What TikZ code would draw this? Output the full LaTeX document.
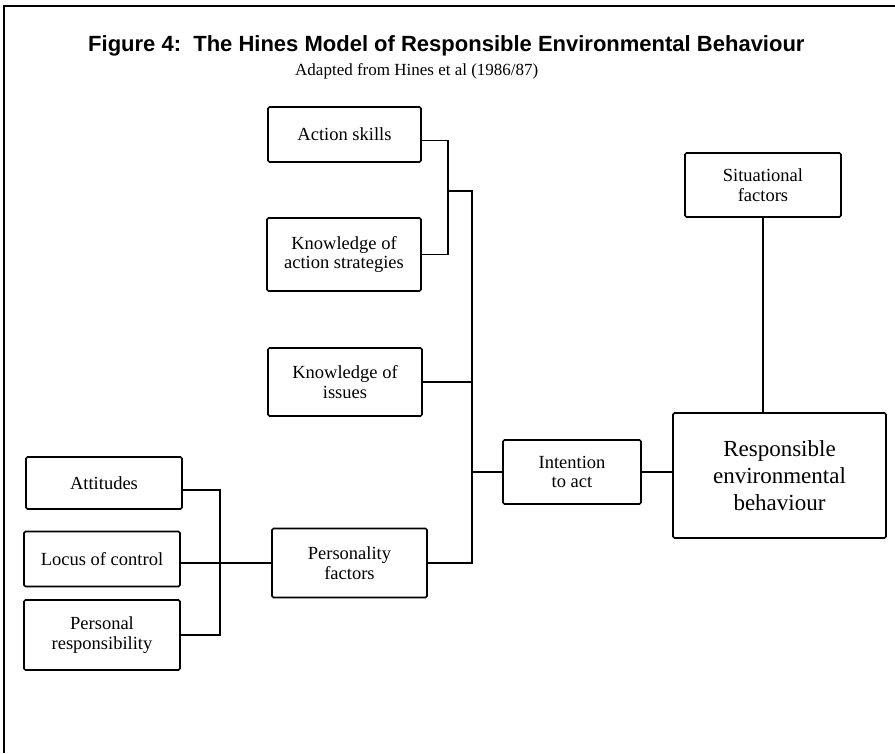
\documentclass[tikz,border=0pt]{standalone}
\usepackage{fontspec}
\setmainfont{Liberation Serif}
\newfontfamily\titlefont{Liberation Sans}
\begin{document}
\begin{tikzpicture}[x=1pt,y=-1pt,
  box/.style={draw,line width=1.6pt,rounded corners=1.5pt,align=center,inner sep=0pt,
    font=\fontsize{18.5}{19.5}\selectfont},
  link/.style={line width=1.3pt}]
\useasboundingbox (0,0) rectangle (895,753);
% frame (top and left edges)
\draw[line width=1.8pt] (4,753) -- (4,6) -- (895,6);
% title
\node[font=\titlefont\bfseries\fontsize{22}{25}\selectfont,anchor=base west,inner sep=0pt] (title) at (88,51)
  {Figure 4:\ \ The Hines Model of Responsible Environmental Behaviour};
\node[font=\fontsize{17}{19}\selectfont,anchor=base west,inner sep=0pt] (sub) at (295,75)
  {Adapted from Hines et al (1986/87)};
% boxes
\node[box,minimum width=153pt,minimum height=55pt] (skills) at (344.5,134.5) {Action skills};
\node[box,minimum width=154pt,minimum height=73pt] (strat) at (344,254.5) {Knowledge of\\action strategies};
\node[box,minimum width=154pt,minimum height=68pt] (issues) at (345,382) {Knowledge of\\issues};
\node[box,minimum width=138pt,minimum height=64pt] (int) at (572,472) {Intention\\to act};
\node[box,minimum width=213pt,minimum height=125pt,font=\fontsize{23}{27}\selectfont] (reb) at (779.5,475.5)
  {Responsible\\environmental\\behaviour};
\node[box,minimum width=156pt,minimum height=64pt] (sit) at (763,185) {Situational\\factors};
\node[box,minimum width=156pt,minimum height=52pt] (att) at (104,483) {Attitudes};
\node[box,minimum width=156pt,minimum height=55pt] (loc) at (102,559) {Locus of control};
\node[box,minimum width=156pt,minimum height=70pt] (pers) at (102,635) {Personal\\responsibility};
\node[box,minimum width=155pt,minimum height=69pt] (pf) at (349.5,563) {Personality\\factors};
% junction points
\coordinate (b1) at (448,191);
\coordinate (m) at (472,191);
\coordinate (lb) at (220,0);
% connectors
\draw[link] ([yshift=-6pt]skills.east) -| (b1) |- (strat.east);
\draw[link] (b1) -- (m) -- (m |- pf.east) -- (pf.east);
\draw[link] (issues.east) -- (issues.east -| m);
\draw[link] (int.west -| m) -- (int.west);
\draw[link] (int.east) -- (int.east -| reb.west);
\draw[link] (sit.south) -- (sit.south |- reb.north);
\draw[link] ([yshift=-7pt]att.east) -- ([yshift=-7pt]att.east -| lb) -- (pers.east -| lb) -- (pers.east);
\draw[link] (loc.east |- pf.west) -- (pf.west);
\end{tikzpicture}
\end{document}
